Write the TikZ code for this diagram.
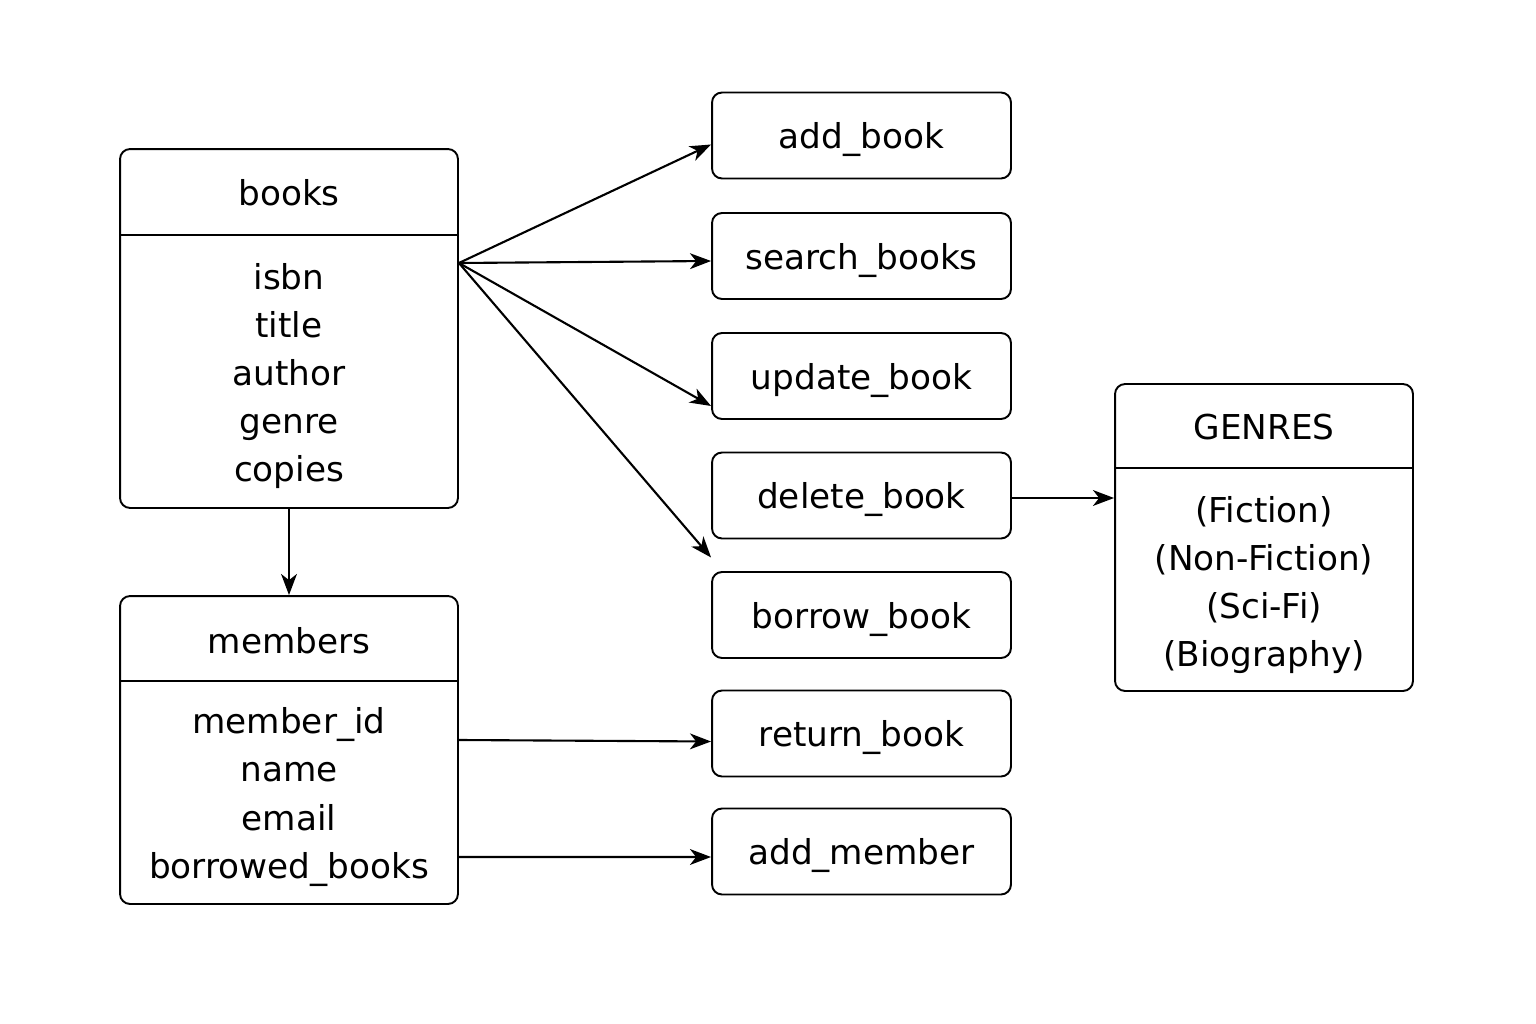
\documentclass[tikz,border=0pt]{standalone}
\usepackage{fontspec}
\setmainfont{DejaVu Sans}
\usetikzlibrary{arrows.meta,calc}

\begin{document}
\begin{tikzpicture}[x=0.02cm,y=-0.02cm,
  box/.style={draw, line width=1.1pt, rounded corners=0.2cm, inner sep=0pt},
  opbox/.style={box, minimum width=5.98cm, minimum height=1.72cm,
    text height=14.8pt, text depth=0pt,
    font=\fontsize{19.5}{24}\selectfont},
  txt/.style={font=\fontsize{19.5}{27.4}\selectfont, align=center, inner sep=0pt},
  divider/.style={line width=1.1pt},
  link/.style={line width=1.2pt, -{Stealth[length=12pt,width=9pt,inset=3.5pt]}}]

\useasboundingbox (0,0) rectangle (1536,1024);

% --- books table ---
\node[box, minimum width=6.76cm, minimum height=7.18cm] (books) at (289,328.5) {};
\draw[divider] ($(books.north west)+(0,87)$) -- ($(books.north east)+(0,87)$);
\node[txt] (bookshead) at (289,193) {books};
\node[txt] (booksattr) at (289,376) {isbn\\title\\author\\genre\\copies};

% --- members table ---
\node[box, minimum width=6.76cm, minimum height=6.16cm] (members) at (289,750) {};
\draw[divider] ($(members.north west)+(0,86)$) -- ($(members.north east)+(0,86)$);
\node[txt] (membershead) at (289,641) {members};
\node[txt] (membersattr) at (289,797) {member\_id\\name\\email\\borrowed\_books};

% --- genres table ---
\node[box, minimum width=5.96cm, minimum height=6.14cm] (genres) at (1264,537.5) {};
\draw[divider] ($(genres.north west)+(0,85)$) -- ($(genres.north east)+(0,85)$);
\node[txt] (genreshead) at (1264,427) {GENRES};
\node[txt] (genresattr) at (1264,585) {(Fiction)\\(Non-Fiction)\\(Sci-Fi)\\(Biography)};

% --- operations ---
\node[opbox] (addbook)   at (861.5,135.5) {add\_book};
\node[opbox] (search)    at (861.5,256)   {search\_books};
\node[opbox] (update)    at (861.5,376)   {update\_book};
\node[opbox] (delete)    at (861.5,495.5) {delete\_book};
\node[opbox] (borrow)    at (861.5,615)   {borrow\_book};
\node[opbox] (return)    at (861.5,733.5) {return\_book};
\node[opbox] (addmember) at (861.5,851.5) {add\_member};

% --- connectors ---
\coordinate (bk) at ($(books.east)+(0,-65.5)$);
\draw[link] (bk) -- ($(addbook.west)+(0,9)$);
\draw[link] (bk) -- ($(search.west)+(0,5)$);
\draw[link] (bk) -- ($(update.west)+(0,30)$);
\draw[link] (bk) -- ($(delete.west)+(0,62)$);
\draw[link] (books.south) -- (members.north);
\draw[link] ($(members.east)+(0,-10)$) -- ($(return.west)+(0,8)$);
\draw[link] ($(members.east)+(0,107)$) -- ($(addmember.west)+(0,5.5)$);
\draw[link] ($(delete.east)+(0,2.5)$) -- ($(delete.east -| genres.west)+(0,2.5)$);
\end{tikzpicture}
\end{document}
